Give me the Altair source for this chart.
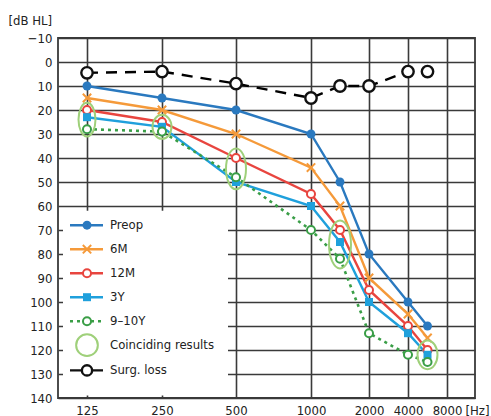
import altair as alt
import pandas as pd

# ---- data ----
freqs = [125, 250, 500, 1000, 1500, 2000, 4000, 6000]
preop = [10, 15, 20, 30, 50, 80, 100, 110]
m6 = [15, 20, 30, 44, 60, 90, 105, 115]
m12 = [20, 25, 40, 55, 70, 95, 110, 120]
y3 = [23, 27, 50, 60, 75, 100, 113, 122]
y910 = [28, 29, 48, 70, 82, 113, 122, 125]
surg = [4.5, 4, 9, 15, 10, 10, 4, 4]

x_ticks = [125, 250, 500, 1000, 2000, 4000, 8000]
y_ticks = list(range(-10, 141, 10))

# coinciding-results ellipses: frequency, lower and upper dB of the span
ell_freq = [125, 250, 500, 1500, 6000]
ell_lo = [17, 22, 36, 66, 116]
ell_hi = [31, 32, 53, 86, 128]
ell_w = [17, 19, 20, 22, 20]

legend_labels = ["Preop", "6M", "12M", "3Y", "9–10Y", "Coinciding results", "Surg. loss"]

FONT = "Liberation Sans Narrow, DejaVu Sans Condensed, sans-serif"

W, H = 417, 360
PX_PER_DB = H / 150.0

# piecewise audiogram frequency axis
xscale = alt.Scale(type="linear",
                   domain=[77, 125, 250, 500, 1000, 2000, 4000, 8000, 10872],
                   range=[0, 29, 104, 178, 253, 311, 350, 389, W],
                   nice=False, zero=False)
yscale = alt.Scale(domain=[-10, 140], reverse=True, nice=False, zero=False)

GRID = "#3a3a3a"

x_axis = alt.Axis(values=x_ticks, grid=True, gridColor=GRID, gridWidth=1.6,
                  ticks=False, domain=False, labelFont=FONT, labelFontSize=13,
                  labelColor="#222", labelPadding=6, labelOverlap=False,
                  format="d", title="[Hz]", titleFont=FONT, titleFontSize=13,
                  titleFontWeight="normal", titleColor="#222",
                  titleX=419, titleY=12, titleAlign="center", titleBaseline="middle",
                  titleAnchor="start")
y_axis = alt.Axis(values=y_ticks, grid=True, gridColor=GRID, gridWidth=1.6,
                  ticks=False, domain=False, labelFont=FONT, labelFontSize=13,
                  labelColor="#222", labelPadding=6,
                  title="[dB HL]", titleAngle=0, titleFont=FONT, titleFontSize=13,
                  titleFontWeight="normal", titleColor="#222",
                  titleX=-50, titleY=-18, titleAlign="left", titleBaseline="middle")

X = alt.X("freq:Q", scale=xscale, axis=x_axis)
Y = alt.Y("db:Q", scale=yscale, axis=y_axis)


def frame(vals):
    return pd.DataFrame({"freq": freqs, "db": vals})


layers = []

# legend background (white box hiding the grid)
leg_bg = alt.Chart(pd.DataFrame({"db": [62], "db2": [139]})).mark_rect(color="white").encode(
    x=alt.value(5), x2=alt.value(170), y=Y, y2="db2:Q")
layers.append(leg_bg)

# series
series = [
    (preop, "#2a79bf", "solid", "circle"),
    (m6, "#f59a3a", "solid", "x"),
    (m12, "#e8453f", "solid", "ocircle"),
    (y3, "#1fa0dc", "solid", "square"),
    (y910, "#3a9e47", "dot", "ocircle"),
]


def marker_layer(data, color, kind, size=None):
    ch = alt.Chart(data)
    if kind == "circle":
        return ch.mark_point(shape="circle", filled=True, color=color, size=size or 80, opacity=1)
    if kind == "square":
        return ch.mark_point(shape="square", filled=True, color=color, size=size or 64, opacity=1)
    if kind == "x":
        return ch.mark_point(shape="M-1,-1L1,1M-1,1L1,-1", filled=False, color=color,
                             strokeWidth=2, size=size or 70, opacity=1)
    if kind == "ocircle":
        return ch.mark_point(shape="circle", filled=True, fill="white", stroke=color,
                             strokeWidth=2, size=size or 65, opacity=1)
    if kind == "bcircle":
        return ch.mark_point(shape="circle", filled=True, fill="white", stroke=color,
                             strokeWidth=2.4, size=size or 130, opacity=1)


for vals, color, style, kind in series:
    df = frame(vals)
    if style == "dot":
        ln = alt.Chart(df).mark_line(color=color, strokeWidth=2.6, strokeDash=[3, 4])
    else:
        ln = alt.Chart(df).mark_line(color=color, strokeWidth=2.4)
    layers.append(ln.encode(x=X, y=Y))

# surgical loss
sdf = frame(surg)
layers.append(alt.Chart(sdf).transform_filter("datum.freq <= 4000")
              .mark_line(color="black", strokeWidth=2.4, strokeDash=[11, 8])
              .encode(x=X, y=Y))

for vals, color, style, kind in series:
    layers.append(marker_layer(frame(vals), color, kind).encode(x=X, y=Y))
layers.append(marker_layer(sdf, "#111", "bcircle").encode(x=X, y=Y))

# coinciding-results ellipses
ELL = "#9fd07a"
for f, lo, hi, w in zip(ell_freq, ell_lo, ell_hi, ell_w):
    h = (hi - lo) * PX_PER_DB
    r = w / h
    path = f"M0,-1A{r:.3f},1 0 1,1 0,1A{r:.3f},1 0 1,1 0,-1Z"
    edf = pd.DataFrame({"freq": [f], "db": [(lo + hi) / 2]})
    layers.append(alt.Chart(edf).mark_point(shape=path, filled=False, color=ELL,
                                            strokeWidth=2, size=h * h, opacity=1)
                  .encode(x=X, y=Y))

# legend
leg_y = [68 + 10 * i for i in range(len(legend_labels))]
leg_y[-1] = 128.5
leg_styles = [
    ("#2a79bf", "solid", "circle"),
    ("#f59a3a", "solid", "x"),
    ("#e8453f", "solid", "ocircle"),
    ("#1fa0dc", "solid", "square"),
    ("#3a9e47", "dot", "ocircle"),
    (ELL, None, "ellipse"),
    ("#111", "solid", "bcircle"),
]
for lab, yy, (color, style, kind) in zip(legend_labels, leg_y, leg_styles):
    ldf = pd.DataFrame({"freq": [125], "db": [yy], "label": [lab]})
    if style is not None:
        if style == "dot":
            rule = alt.Chart(ldf).mark_rule(color=color, strokeWidth=2.6, strokeDash=[3, 4])
        else:
            rule = alt.Chart(ldf).mark_rule(color=color, strokeWidth=2.4)
        layers.append(rule.encode(x=alt.value(12), x2=alt.value(45), y=Y))
    if kind == "ellipse":
        layers.append(alt.Chart(ldf).mark_point(shape="circle", filled=False, color=ELL,
                                                strokeWidth=2, size=470, opacity=1)
                      .encode(x=X, y=Y))
    else:
        sz = 105 if kind == "bcircle" else None
        layers.append(marker_layer(ldf, color, kind, size=sz).encode(x=X, y=Y))
    layers.append(alt.Chart(ldf).mark_text(align="left", baseline="middle", font=FONT,
                                           fontSize=13, color="#222")
                  .encode(x=alt.value(52), y=Y, text="label:N"))

chart = alt.layer(*layers).properties(
    width=W, height=H,
    background="white",
    autosize=alt.AutoSizeParams(type="none"),
    padding={"left": 58, "top": 38, "right": 16, "bottom": 18},
).configure_view(stroke=GRID, strokeWidth=1.8)

chart.save("out.html", embed_options={"renderer": "svg", "actions": False})
